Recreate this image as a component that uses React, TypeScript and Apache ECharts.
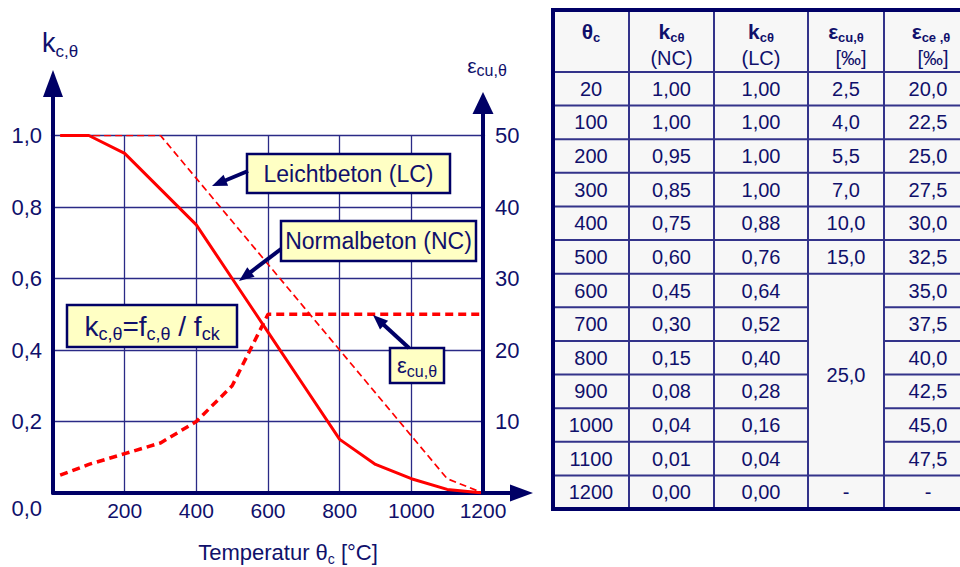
import React, { useEffect, useRef } from 'react';
import * as echarts from 'echarts';

// ---------- data ----------
const theta = [20, 100, 200, 300, 400, 500, 600, 700, 800, 900, 1000, 1100, 1200];
const kNC = [1.0, 1.0, 0.95, 0.85, 0.75, 0.6, 0.45, 0.3, 0.15, 0.08, 0.04, 0.01, 0.0];
const kLC = [1.0, 1.0, 1.0, 1.0, 0.88, 0.76, 0.64, 0.52, 0.4, 0.28, 0.16, 0.04, 0.0];
const epsCu: (number | null)[] = [2.5, 4.0, 5.5, 7.0, 10.0, 15.0, 25.0, 25.0, 25.0, 25.0, 25.0, 25.0, null];
const epsCe: (number | null)[] = [20.0, 22.5, 25.0, 27.5, 30.0, 32.5, 35.0, 37.5, 40.0, 42.5, 45.0, 47.5, null];
// ε_cu curve as drawn in the diagram (continues flat to 1200 °C)
const epsCuCurve = [2.5, 4.0, 5.5, 7.0, 10.0, 15.0, 25.0, 25.0, 25.0, 25.0, 25.0, 25.0, 25.0];

// ---------- styles ----------
const NAVY = '#000066';
const TXT = '#10106b';
const GRID = '#2a2a86';
const RED = '#ff0000';
const BOXFILL = '#ffffc4';
const FONT = '"Liberation Sans", Arial, sans-serif';

const fmt = (v: number | null, d: number) => (v === null ? '-' : v.toFixed(d).replace('.', ','));

function arrowEls(x1: number, y1: number, x2: number, y2: number, w: number, hl: number, hw: number) {
  const dx = x2 - x1, dy = y2 - y1;
  const L = Math.hypot(dx, dy);
  const ux = dx / L, uy = dy / L;
  const bx = x2 - ux * hl, by = y2 - uy * hl;
  const px = -uy, py = ux;
  return [
    { type: 'line', z: 50, shape: { x1, y1, x2: bx + ux * 2, y2: by + uy * 2 }, style: { stroke: NAVY, lineWidth: w } },
    {
      type: 'polygon', z: 50,
      shape: { points: [[x2, y2], [bx + (px * hw) / 2, by + (py * hw) / 2], [bx - (px * hw) / 2, by - (py * hw) / 2]] },
      style: { fill: NAVY },
    },
  ];
}

function box(x: number, y: number, w: number, h: number, text: string, rich?: any, fontSize = 23) {
  return [
    { type: 'rect', z: 40, shape: { x, y, width: w, height: h }, style: { fill: BOXFILL, stroke: NAVY, lineWidth: 2.5 } },
    {
      type: 'text', z: 41, x: x + w / 2, y: y + h / 2,
      style: { text, fontSize, fontFamily: FONT, fill: TXT, align: 'center', verticalAlign: 'middle', rich },
    },
  ];
}

function tableEls() {
  const L = 553, T = 10, R = 972, B = 509, HB = 72;
  const cols = [553, 629, 714, 808, 884, 972];
  const n = theta.length;
  const rh = (B - HB) / n;
  const els: any[] = [];
  els.push({ type: 'rect', z: 10, shape: { x: L, y: T, width: R - L, height: B - T }, style: { fill: '#f7f7f7' } });
  // merged runs in ε_cu column
  const runId: number[] = [];
  let id = 0;
  for (let i = 0; i < n; i++) {
    if (i > 0 && epsCu[i] !== null && epsCu[i] === epsCu[i - 1]) runId.push(runId[i - 1]);
    else runId.push(id++);
  }
  const inner = { stroke: '#33338a', lineWidth: 2 };
  for (let i = 0; i < n; i++) {
    const y = HB + rh * i;
    if (i > 0 && runId[i] === runId[i - 1]) {
      els.push({ type: 'line', z: 12, shape: { x1: L, y1: y, x2: cols[3], y2: y }, style: inner });
      els.push({ type: 'line', z: 12, shape: { x1: cols[4], y1: y, x2: R, y2: y }, style: inner });
    } else {
      els.push({ type: 'line', z: 12, shape: { x1: L, y1: y, x2: R, y2: y }, style: inner });
    }
  }
  for (let c = 1; c < cols.length - 1; c++) {
    els.push({ type: 'line', z: 12, shape: { x1: cols[c], y1: T, x2: cols[c], y2: B }, style: inner });
  }
  els.push({ type: 'rect', z: 14, shape: { x: L, y: T, width: R - L, height: B - T }, style: { fill: 'none', stroke: NAVY, lineWidth: 4 } });

  const cx = (c: number) => (cols[c] + cols[c + 1]) / 2;
  const cellText = (x: number, y: number, text: string) => ({
    type: 'text', z: 15, x, y,
    style: { text, fontSize: 20, fontFamily: FONT, fill: TXT, align: 'center', verticalAlign: 'middle' },
  });
  const hRich = {
    b: { fontSize: 21, fontWeight: 'bold', fontFamily: FONT, fill: TXT, verticalAlign: 'middle', lineHeight: 26 },
    s: { fontSize: 13, fontWeight: 'bold', fontFamily: FONT, fill: TXT, verticalAlign: 'bottom', lineHeight: 10 },
  };
  const headRich = (x: number, y: number, text: string) => ({
    type: 'text', z: 15, x, y,
    style: { text, rich: hRich, fontSize: 20, fontFamily: FONT, fill: TXT, align: 'center', verticalAlign: 'middle' },
  });
  els.push(headRich(cx(0), 31, '{b|θ}{s|c}'));
  els.push(headRich(cx(1), 31, '{b|k}{s|cθ}'));
  els.push(cellText(cx(1), 58, '(NC)'));
  els.push(headRich(cx(2), 31, '{b|k}{s|cθ}'));
  els.push(cellText(cx(2), 58, '(LC)'));
  els.push(headRich(cx(3), 31, '{b|ε}{s|cu,θ}'));
  els.push(cellText(cx(3) + 5, 58, '[‰]'));
  els.push(headRich(cx(4) + 3, 31, '{b|ε}{s|ce ,θ}'));
  els.push(cellText(cx(4) + 5, 58, '[‰]'));

  for (let i = 0; i < n; i++) {
    const y = HB + rh * (i + 0.5);
    els.push(cellText(cx(0), y, String(theta[i])));
    els.push(cellText(cx(1), y, fmt(kNC[i], 2)));
    els.push(cellText(cx(2), y, fmt(kLC[i], 2)));
    els.push(cellText(cx(4), y, fmt(epsCe[i], 1)));
    if (i === 0 || runId[i] !== runId[i - 1]) {
      let j = i;
      while (j + 1 < n && runId[j + 1] === runId[i]) j++;
      const yc = HB + rh * ((i + j + 1) / 2);
      els.push(cellText(cx(3), yc, fmt(epsCu[i], 1)));
    }
  }
  return els;
}

export default function App() {
  const ref = useRef<HTMLDivElement>(null);
  useEffect(() => {
    document.body.style.margin = '0';
    const chart = echarts.init(ref.current!, undefined, { renderer: 'svg' });
    const subRich = (big: number, small: number) => ({
      a: { fontSize: big, color: TXT, fontFamily: FONT, verticalAlign: 'middle', lineHeight: big + 6 },
      s: { fontSize: small, color: TXT, fontFamily: FONT, verticalAlign: 'bottom', lineHeight: Math.round(small * 0.7) },
    });
    const gRich = (big: number, small: number) => ({
      a: { fontSize: big, fill: TXT, fontFamily: FONT, verticalAlign: 'middle', lineHeight: big + 6 },
      s: { fontSize: small, fill: TXT, fontFamily: FONT, verticalAlign: 'bottom', lineHeight: Math.round(small * 0.7) },
    });

    const option: any = {
      animation: false,
      backgroundColor: '#ffffff',
      grid: { left: 53, right: 477, top: 135.5, bottom: 74, containLabel: false, outerBoundsMode: 'none' },
      xAxis: {
        type: 'value', min: 0, max: 1200, interval: 200,
        axisLine: { show: true, lineStyle: { color: NAVY, width: 4 } },
        axisTick: { show: false },
        splitLine: { show: true, lineStyle: { color: GRID, width: 1.3 } },
        axisLabel: {
          color: TXT, fontSize: 21, fontFamily: FONT, margin: 7, showMinLabel: false,
          formatter: (v: number) => String(v),
        },
        name: '{a|Temperatur θ}{s|c}{a| [°C]}',
        nameLocation: 'middle', nameGap: 45,
        nameTextStyle: { rich: subRich(22, 14), padding: [0, 0, 0, 40] },
      },
      yAxis: [
        {
          type: 'value', min: 0, max: 1, interval: 0.2,
          axisLine: { show: true, lineStyle: { color: NAVY, width: 4 } },
          axisTick: { show: false },
          splitLine: { show: true, lineStyle: { color: GRID, width: 1.3 } },
          axisLabel: {
            color: TXT, fontSize: 22, fontFamily: FONT, margin: 11,
            formatter: (v: number) => (v === 0 ? '{z|0,0}' : v.toFixed(1).replace('.', ',')),
            rich: { z: { fontSize: 22, color: TXT, fontFamily: FONT, padding: [30, 0, 0, 0] } },
          },
          name: '{a|k}{s|c,θ}',
          nameLocation: 'end', nameGap: 76,
          nameTextStyle: { rich: subRich(27, 17), padding: [0, 0, 0, 14] },
        },
        {
          type: 'value', min: 0, max: 50, interval: 10, position: 'right',
          axisLine: { show: true, lineStyle: { color: NAVY, width: 4 } },
          axisTick: { show: false },
          splitLine: { show: false },
          axisLabel: { color: TXT, fontSize: 22, fontFamily: FONT, margin: 12, showMinLabel: false, padding: [10, 0, 0, 0] },
          name: '{a|ε}{s|cu,θ}',
          nameLocation: 'end', nameGap: 57,
          nameTextStyle: { rich: subRich(21, 16), padding: [0, 0, 0, 8] },
        },
      ],
      series: [
        {
          name: 'LC', type: 'line', yAxisIndex: 0, symbol: 'none', z: 3,
          data: theta.map((t, i) => [t, kLC[i]]),
          lineStyle: { color: RED, width: 1.7, type: [7, 4] },
        },
        {
          name: 'NC', type: 'line', yAxisIndex: 0, symbol: 'none', z: 4,
          data: theta.map((t, i) => [t, kNC[i]]),
          lineStyle: { color: RED, width: 3 },
        },
        {
          name: 'eps', type: 'line', yAxisIndex: 1, symbol: 'none', z: 4,
          data: theta.map((t, i) => [t, epsCuCurve[i]]),
          lineStyle: { color: RED, width: 3.5, type: [8, 5] },
        },
      ],
      graphic: [
        ...arrowEls(53, 136, 53, 70, 4, 27, 20),
        ...arrowEls(483, 136, 483, 92, 4, 22, 21),
        ...arrowEls(481, 493, 533, 493, 4, 23, 17),
        ...box(247, 154, 203, 39, 'Leichtbeton (LC)'),
        ...arrowEls(248, 171, 212, 186, 4, 15, 12),
        ...box(281, 221, 195, 40, 'Normalbeton (NC)'),
        ...arrowEls(281, 249, 239, 281, 4, 15, 12),
        ...box(67, 305, 170, 42, '{a|k}{s|c,θ}{a|=f}{s|c,θ}{a| / f}{s|ck}', gRich(28, 18), 28),
        ...box(390, 348, 54, 35, '{a|ε}{s|cu,θ}', gRich(22, 16), 22),
        ...arrowEls(409, 348, 373, 315, 4, 15, 12),
        ...tableEls(),
      ],
    };
    chart.setOption(option);
    return () => chart.dispose();
  }, []);
  return <div ref={ref} style={{ width: 960, height: 567, position: 'absolute', left: 0, top: 0 }} />;
}
